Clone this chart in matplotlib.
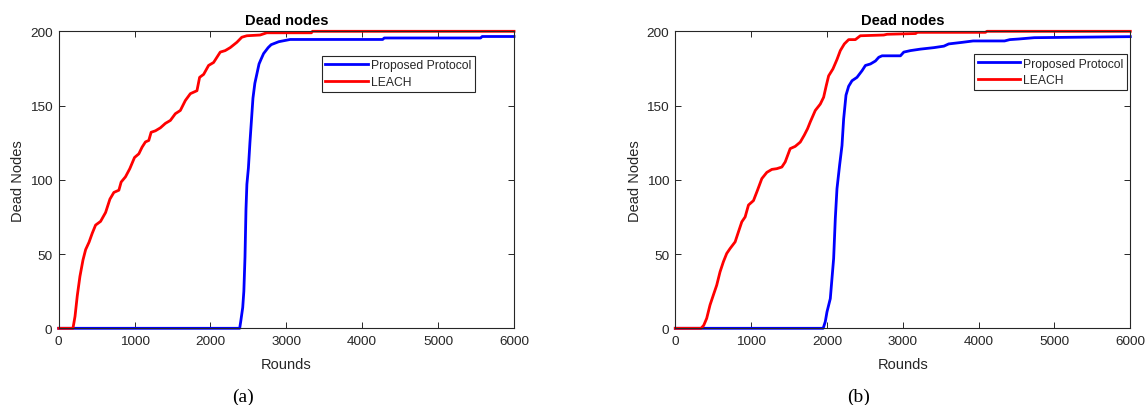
import matplotlib
matplotlib.use("Agg")
import matplotlib.pyplot as plt

# ---------------- data ----------------
rounds_prop_a = [0, 2385, 2400, 2425, 2440, 2455, 2468, 2480, 2500, 2520, 2540, 2560, 2585,
                 2640, 2665, 2700, 2760, 2800, 2900, 3050, 4270, 4290, 5560, 5580, 6000]
dead_prop_a = [0, 0, 5, 14, 25, 48, 80, 97, 108, 125, 140, 155, 165,
               178, 181, 185, 189, 191, 193, 194.5, 194.5, 195.5, 195.5, 196.5, 196.5]

rounds_leach_a = [0, 188, 215, 245, 280, 320, 355, 400, 442, 486, 552, 618, 675, 727, 793, 823,
                  880, 937, 999, 1056, 1099, 1143, 1187, 1218, 1275, 1340, 1406, 1472, 1537,
                  1603, 1669, 1735, 1822, 1857, 1910, 1975, 2041, 2129, 2194, 2260, 2348, 2413,
                  2479, 2654, 2742, 3330, 3345, 6000]
dead_leach_a = [0, 0, 8, 22, 35, 46, 53, 58, 64, 69.5, 72, 78, 87, 91.5, 93, 98.5,
                102, 107.5, 115, 117.5, 122, 125.5, 126.5, 132, 133, 135, 138, 140, 144.5,
                146.7, 153.4, 158, 160, 169, 171, 177, 179, 186, 187, 189, 192.6, 196,
                197, 197.5, 199, 199, 200, 200]

rounds_prop_b = [0, 1950, 1978, 2000, 2044, 2088, 2110, 2132, 2167, 2198, 2220, 2251, 2286,
                 2330, 2396, 2463, 2507, 2573, 2639, 2683, 2727, 2969, 3013, 3101, 3233, 3410,
                 3542, 3605, 3789, 3927, 4342, 4411, 4526, 4733, 6000]
dead_prop_b = [0, 0, 4.5, 11, 20, 47, 74, 94, 110, 123, 141, 157, 163,
               166.7, 169, 173.5, 177, 178, 180, 182.5, 183.5, 183.5, 186, 187, 188, 189,
               190, 191.5, 192.6, 193.5, 193.5, 194.4, 194.8, 195.7, 196.4]

rounds_leach_b = [0, 340, 375, 414, 458, 502, 546, 590, 634, 678, 722, 789, 833, 877, 921, 965,
                  1031, 1084, 1141, 1207, 1273, 1339, 1405, 1449, 1515, 1581, 1648, 1700, 1744,
                  1780, 1846, 1912, 1956, 1991, 2022, 2079, 2132, 2176, 2229, 2286, 2374, 2440,
                  2749, 2793, 3170, 3190, 4090, 4110, 6000]
dead_leach_b = [0, 0, 2, 6.7, 15.7, 22.4, 29, 38, 44.8, 50.4, 53.7, 58.2, 65, 71.7, 75, 83,
                86, 93, 100.8, 105, 107, 107.5, 108.6, 112, 121, 122.5, 125.4, 130, 134.4,
                139, 146.7, 151, 155.6, 163.5, 170, 174.7, 181, 187, 191.5, 194.4, 194.4, 197,
                197.5, 198, 198.5, 199.3, 199.3, 200, 200]

x_ticks = [0, 1000, 2000, 3000, 4000, 5000, 6000]
y_ticks = [0, 50, 100, 150, 200]
series_labels = ["Proposed Protocol", "LEACH"]
captions = ["(a)", "(b)"]

# ---------------- style ----------------
SANS = ["Liberation Sans", "DejaVu Sans"]
SERIF = ["Liberation Serif", "DejaVu Serif"]
AXC = "#262626"

fig = plt.figure(figsize=(11.47, 4.06), dpi=100)
W, H = 1147, 406

panels = [
    dict(left=58.7, right=514.0, px=rounds_prop_a, py=dead_prop_a, lx=rounds_leach_a, ly=dead_leach_a,
         leg=(321.7, 56.7), cap_x=243),
    dict(left=675.3, right=1130.3, px=rounds_prop_b, py=dead_prop_b, lx=rounds_leach_b, ly=dead_leach_b,
         leg=(974.3, 55.0), cap_x=859),
]
top, bottom = 32.3, 329.3

for i, p in enumerate(panels):
    ax = fig.add_axes([p["left"] / W, (H - bottom) / H, (p["right"] - p["left"]) / W, (bottom - top) / H])
    ax.plot(p["px"], p["py"], color="#0000ff", lw=2.0, label=series_labels[0], clip_on=False,
            solid_joinstyle="round")
    ax.plot(p["lx"], p["ly"], color="#ff0000", lw=2.0, label=series_labels[1], clip_on=False,
            solid_joinstyle="round")
    ax.set_xlim(0, 6000)
    ax.set_ylim(0, 200)
    ax.set_xticks(x_ticks)
    ax.set_yticks(y_ticks)
    ax.tick_params(direction="in", length=4, width=0.7, color=AXC, labelcolor=AXC,
                   top=True, right=True, labelsize=9.7)
    ax.tick_params(axis="x", pad=5)
    ax.tick_params(axis="y", pad=4.5)
    for lab in ax.get_xticklabels() + ax.get_yticklabels():
        lab.set_family(SANS)
    for s in ax.spines.values():
        s.set_color(AXC)
        s.set_linewidth(0.8)
    ax.set_title("Dead nodes", fontsize=10.5, fontweight="bold", family=SANS, pad=5, color="black")
    ax.set_xlabel("Rounds", fontsize=10.5, family=SANS, color=AXC)
    ax.set_ylabel("Dead Nodes", fontsize=10.5, family=SANS, color=AXC)
    ax.yaxis.set_label_coords(-0.073, 0.5)
    ax.xaxis.set_label_coords(0.5, -0.098)

    lx0 = (p["leg"][0] - p["left"]) / (p["right"] - p["left"])
    ly0 = (bottom - p["leg"][1]) / (bottom - top)
    leg = ax.legend(loc="upper left", bbox_to_anchor=(lx0, ly0), borderaxespad=0,
                    prop={"family": SANS, "size": 8.7}, handlelength=3.5, handletextpad=0.25,
                    labelspacing=0.4, borderpad=0.3, fancybox=False, framealpha=1,
                    edgecolor=AXC)
    leg.get_frame().set_linewidth(0.8)
    for t in leg.get_texts():
        t.set_color(AXC)

    fig.text(p["cap_x"] / W, (H - 397) / H, captions[i], ha="center", va="center",
             fontsize=14, family=SERIF)

fig.savefig("out.png", dpi=100)
